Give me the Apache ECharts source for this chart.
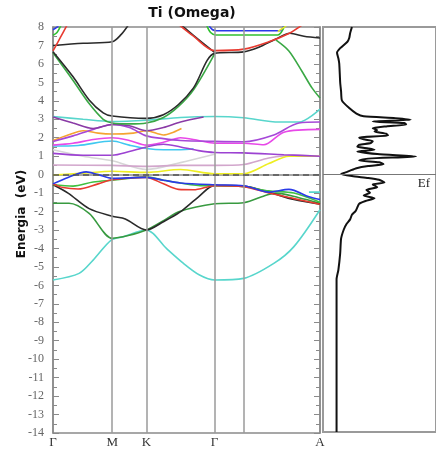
<!DOCTYPE html>
<html>
<head>
<meta charset="utf-8">
<script src="https://cdn.jsdelivr.net/npm/echarts@6/dist/echarts.min.js"></script>
<style>
  html, body { margin: 0; padding: 0; background: #fff; }
  #chart { width: 436px; height: 449px; }
</style>
</head>
<body>
<div id="chart"></div>
<script>
// k-path positions and labels
const kPos = [0, 59, 93, 161, 190, 266];
const kNames = ['Γ', 'M', 'K', 'Γ', '', 'A'];

// bands as [k, E] (eV)
const bandBlackTop = [[0,6.66],[20,5.3],[36,4.05],[50,3.35],[59,3.18],[93,3.05],[110,3.25],[125,3.8],[140,4.7],[161,6.57],[190,6.65],[205,6.9],[222,7.35],[236,7.66],[250,7.5],[266,7.4]];
const bandGreenTop = [[0,6.6],[20,5.1],[36,3.85],[50,3.0],[59,2.8],[76,2.75],[93,2.8],[110,3.1],[125,3.7],[140,4.6],[161,6.55]];
const bandGreenDrop = [[222,7.3],[235,6.7],[248,5.6],[258,4.7],[266,4.15]];
const bandBlackHigh = [[0,7.0],[30,7.12],[59,7.2],[68,7.6],[75,8.1]];
const bandRedHigh = [[0,6.7],[5,7.2],[10,7.7],[14,8.1]];
const bandGreenHigh = [[0,7.55],[4,7.7],[8,8.1]];
const bandBlueHigh = [[0,7.85],[3,7.95],[6,8.1]];
const bandRedMid = [[126,8.1],[140,7.5],[161,6.72],[190,6.8],[215,7.2],[235,7.65],[248,8.1]];
const bandBlackMid = [[128,8.1],[142,7.45],[161,6.62]];
const bandGreenFlat = [[153,8.1],[157,7.7],[162,7.57],[190,7.57],[224,7.57],[231,8.1]];
const bandBlueFlat = [[155,8.1],[159,7.85],[163,7.8],[190,7.8],[226,7.8],[230,8.1]];
const bandYellowHigh = [[224,7.75],[233,8.1]];

const bandCyanTop = [[0,3.15],[30,3.0],[59,2.88],[93,2.95],[127,3.1],[161,3.15],[190,3.08],[225,2.85],[245,2.85],[266,3.55]];
const bandPurpleDark = [[0,3.12],[20,2.8],[40,2.5],[59,2.72],[76,2.65],[93,2.38],[110,2.55],[127,2.85],[150,3.12]];
const bandViolet = [[0,1.8],[20,2.1],[40,2.45],[59,2.72],[76,2.55],[93,2.1],[110,1.95],[127,1.85],[161,1.8],[190,1.78],[220,2.15],[245,2.8],[266,2.85]];
const bandOrange = [[0,1.85],[15,2.15],[30,2.38],[45,2.25],[59,2.2],[80,2.25],[93,2.38],[110,2.15],[120,2.3],[128,2.5]];
const bandMagenta = [[0,1.6],[20,1.7],[40,1.9],[59,2.0],[76,1.85],[93,1.6],[110,1.75],[127,2.0],[145,1.85],[161,1.7],[190,1.7],[210,1.62],[230,2.3],[266,2.45]];
const bandLightBlue = [[0,1.55],[25,1.58],[59,1.82],[76,1.6],[93,1.42],[110,1.35],[127,1.35],[140,1.4]];
const bandPurpleLow = [[0,1.15],[30,1.05],[59,1.05],[76,1.25],[93,1.5],[110,1.65],[127,1.5],[145,1.3],[161,1.2],[190,1.18],[230,1.08],[266,1.0]];
const bandGray = [[0,1.35],[30,1.0],[59,0.75],[93,0.28],[127,0.65],[161,1.1]];
const bandPlum = [[0,0.52],[59,0.5],[93,0.45],[127,0.5],[161,0.5],[190,0.55],[215,0.9],[240,1.05],[266,1.0]];
const bandYellow = [[0,-0.02],[30,0.08],[59,0.18],[93,0.12],[127,0.28],[161,0.05],[190,0.05],[215,0.6],[235,1.0],[266,1.0]];

const bandBlue = [[0,-0.5],[15,-0.15],[33,0.15],[45,0.0],[59,-0.2],[93,-0.15],[110,-0.3],[127,-0.45],[161,-0.55],[190,-0.6],[215,-0.95],[235,-0.8],[255,-1.2],[266,-1.35]];
const bandRed = [[0,-0.5],[10,-0.7],[25,-0.78],[45,-0.5],[59,-0.28],[93,-0.15],[110,-0.5],[125,-0.8],[140,-0.82],[161,-0.6],[190,-0.65],[215,-1.0],[240,-1.3],[266,-1.6]];
const bandGreen = [[0,-0.55],[20,-0.62],[40,-0.4],[59,-0.3],[93,-0.12],[110,-0.3],[126,-0.45],[150,-0.6],[161,-0.6],[190,-0.65],[215,-0.88],[240,-1.0],[266,-1.5]];
const bandBlack = [[0,-0.55],[15,-1.0],[36,-1.84],[59,-2.25],[72,-2.4],[93,-3.0],[110,-2.55],[126,-2.05],[145,-1.2],[161,-0.58],[190,-0.62],[215,-0.95],[240,-1.35],[266,-1.6]];
const bandDarkGreen = [[0,-1.55],[16,-1.55],[36,-2.1],[59,-3.45],[75,-3.3],[93,-3.0],[110,-2.5],[126,-2.0],[161,-1.58],[190,-1.52],[213,-1.1],[222,-1.0],[245,-1.25],[266,-1.55]];
const bandCyanLow = [[0,-5.71],[26,-5.35],[40,-4.63],[58,-3.55],[70,-3.36],[93,-3.0],[113,-4.0],[130,-4.81],[146,-5.44],[161,-5.71],[190,-5.62],[220,-4.81],[240,-3.9],[266,-1.9]];
const bandCyanA = [[255,-0.95],[266,-0.95]];

// density of states
const dosEnergy = [8.0,7.66,7.4,7.2,6.85,6.6,6.3,6.0,5.0,4.5,4.0,3.6,3.3,3.15,3.05,2.96,2.87,2.78,2.7,2.6,2.5,2.4,2.33,2.2,2.1,2.0,1.9,1.8,1.7,1.6,1.5,1.4,1.33,1.24,1.1,0.97,0.85,0.75,0.65,0.55,0.45,0.33,0.2,0.1,0.02,-0.1,-0.2,-0.3,-0.45,-0.55,-0.7,-0.85,-1.0,-1.15,-1.3,-1.45,-1.6,-1.8,-2.0,-2.2,-2.45,-2.7,-3.0,-3.5,-4.3,-5.2,-5.7,-14];
const dosValue = [32,30,29,27,19,15.5,17,18,19,20,21,29,37,45,80,97,55,90,92,70,55,60,57,70,72,40,45,55,53,40,38,50,57,38,60,103,50,40,62,67,50,37,30,25,20,32,50,62,68,55,60,48,52,45,57,47,40,38,36,32,30,26,23,20,19,17,15,15];

const bands = [
  [bandGray, '#d6d6d6'], [bandPlum, '#d2a6cc'], [bandYellow, '#eeee22'],
  [bandCyanTop, '#58d6cc'], [bandLightBlue, '#40c8f0'], [bandOrange, '#f5a332'],
  [bandMagenta, '#e848e8'], [bandPurpleLow, '#9c42d2'], [bandViolet, '#a648d8'],
  [bandPurpleDark, '#8a3aa6'],
  [bandGreenTop, '#3aa845'], [bandBlackTop, '#2a2a2a'], [bandGreenDrop, '#3aa845'],
  [bandBlackHigh, '#2a2a2a'], [bandRedHigh, '#e83a30'], [bandGreenHigh, '#30c030'], [bandBlueHigh, '#2a3ae8'],
  [bandGreenFlat, '#30c030'], [bandBlueFlat, '#2a3ae8'], [bandYellowHigh, '#eeee22'],
  [bandBlackMid, '#2a2a2a'], [bandRedMid, '#e83a30'],
  [bandCyanLow, '#58d6cc'], [bandCyanA, '#58d6cc'],
  [bandDarkGreen, '#389a40'], [bandBlack, '#2a2a2a'],
  [bandGreen, '#40c040'], [bandRed, '#e83a30'], [bandBlue, '#2a3ae8']
];

const chart = echarts.init(document.getElementById('chart'));
const serif = 'Liberation Serif';
const gridGray = '#8a8a8a';

const series = bands.map(([data, color]) => ({
  type: 'line', xAxisIndex: 0, yAxisIndex: 0, data: data,
  smooth: 0.3, showSymbol: false, silent: true,
  lineStyle: { color: color, width: 1.6 }
}));

// k-point lines and Fermi level
series.unshift({
  type: 'line', xAxisIndex: 0, yAxisIndex: 0, data: [], z: 1, silent: true,
  markLine: {
    symbol: 'none', silent: true, label: { show: false },
    data: kPos.slice(1, -1).map(k => ({ xAxis: k, lineStyle: { color: '#9a9a9a', width: 1.5, type: 'solid' } }))
      .concat([{ yAxis: 0, lineStyle: { color: '#555', width: 1.5, type: [6, 4] } }])
  }
});

series.push({
  type: 'line', xAxisIndex: 1, yAxisIndex: 2,
  data: dosEnergy.map((e, i) => [dosValue[i], e]),
  showSymbol: false, silent: true, smooth: 0.2,
  lineStyle: { color: '#111', width: 2 },
  markLine: {
    symbol: 'none', silent: true, label: { show: false },
    data: [{ yAxis: 0 }],
    lineStyle: { color: '#777', width: 1, type: 'solid' }
  }
});

chart.setOption({
  animation: false,
  backgroundColor: '#fff',
  grid: [
    { left: 53, top: 27, width: 267, height: 406, show: true, borderColor: gridGray, borderWidth: 1.5 },
    { left: 323, top: 27, width: 125, height: 405, show: true, borderColor: '#9a9a9a', borderWidth: 2 }
  ],
  xAxis: [
    {
      gridIndex: 0, type: 'value', min: 0, max: 266,
      axisLine: { show: true, lineStyle: { color: gridGray, width: 1.5 } },
      axisTick: { show: false }, splitLine: { show: false },
      axisLabel: {
        customValues: kPos.filter((k, i) => kNames[i] !== ''),
        formatter: v => kNames[kPos.indexOf(v)],
        fontFamily: serif, fontSize: 13, color: '#333', margin: 3
      }
    },
    { gridIndex: 1, type: 'value', min: 0, max: 125, show: false }
  ],
  yAxis: [
    {
      gridIndex: 0, type: 'value', min: -14, max: 8, interval: 1,
      axisLine: { show: true, lineStyle: { color: gridGray, width: 1.5 } },
      axisTick: { show: true, inside: true, length: 6, lineStyle: { color: gridGray } },
      minorTick: { show: true, splitNumber: 2, length: 4, lineStyle: { color: gridGray } },
      splitLine: { show: false },
      axisLabel: { fontFamily: serif, fontSize: 12, color: '#666', margin: 9 }
    },
    {
      gridIndex: 0, type: 'value', min: -14, max: 8, interval: 1, position: 'right',
      axisLine: { show: true, lineStyle: { color: gridGray, width: 1.5 } },
      axisTick: { show: true, inside: true, length: 6, lineStyle: { color: gridGray } },
      minorTick: { show: true, splitNumber: 2, length: 4, lineStyle: { color: gridGray } },
      splitLine: { show: false }, axisLabel: { show: false }
    },
    { gridIndex: 1, type: 'value', min: -14, max: 8, show: false }
  ],
  graphic: [
    { type: 'text', x: 192, y: 13, style: { text: 'Ti (Omega)', font: 'bold 14px "DejaVu Sans"', fill: '#111', textAlign: 'center', textVerticalAlign: 'middle', align: 'center', verticalAlign: 'middle' } },
    { type: 'text', x: 22, y: 214, rotation: Math.PI / 2, style: { text: 'Energia  (eV)', font: 'bold 12px "DejaVu Sans"', fill: '#111', textAlign: 'center', textVerticalAlign: 'middle', align: 'center', verticalAlign: 'middle' } },
    { type: 'text', x: 424, y: 184, style: { text: 'Ef', font: '13px "Liberation Serif"', fill: '#222', textAlign: 'center', textVerticalAlign: 'middle', align: 'center', verticalAlign: 'middle' } }
  ],
  series: series
});
</script>
</body>
</html>
